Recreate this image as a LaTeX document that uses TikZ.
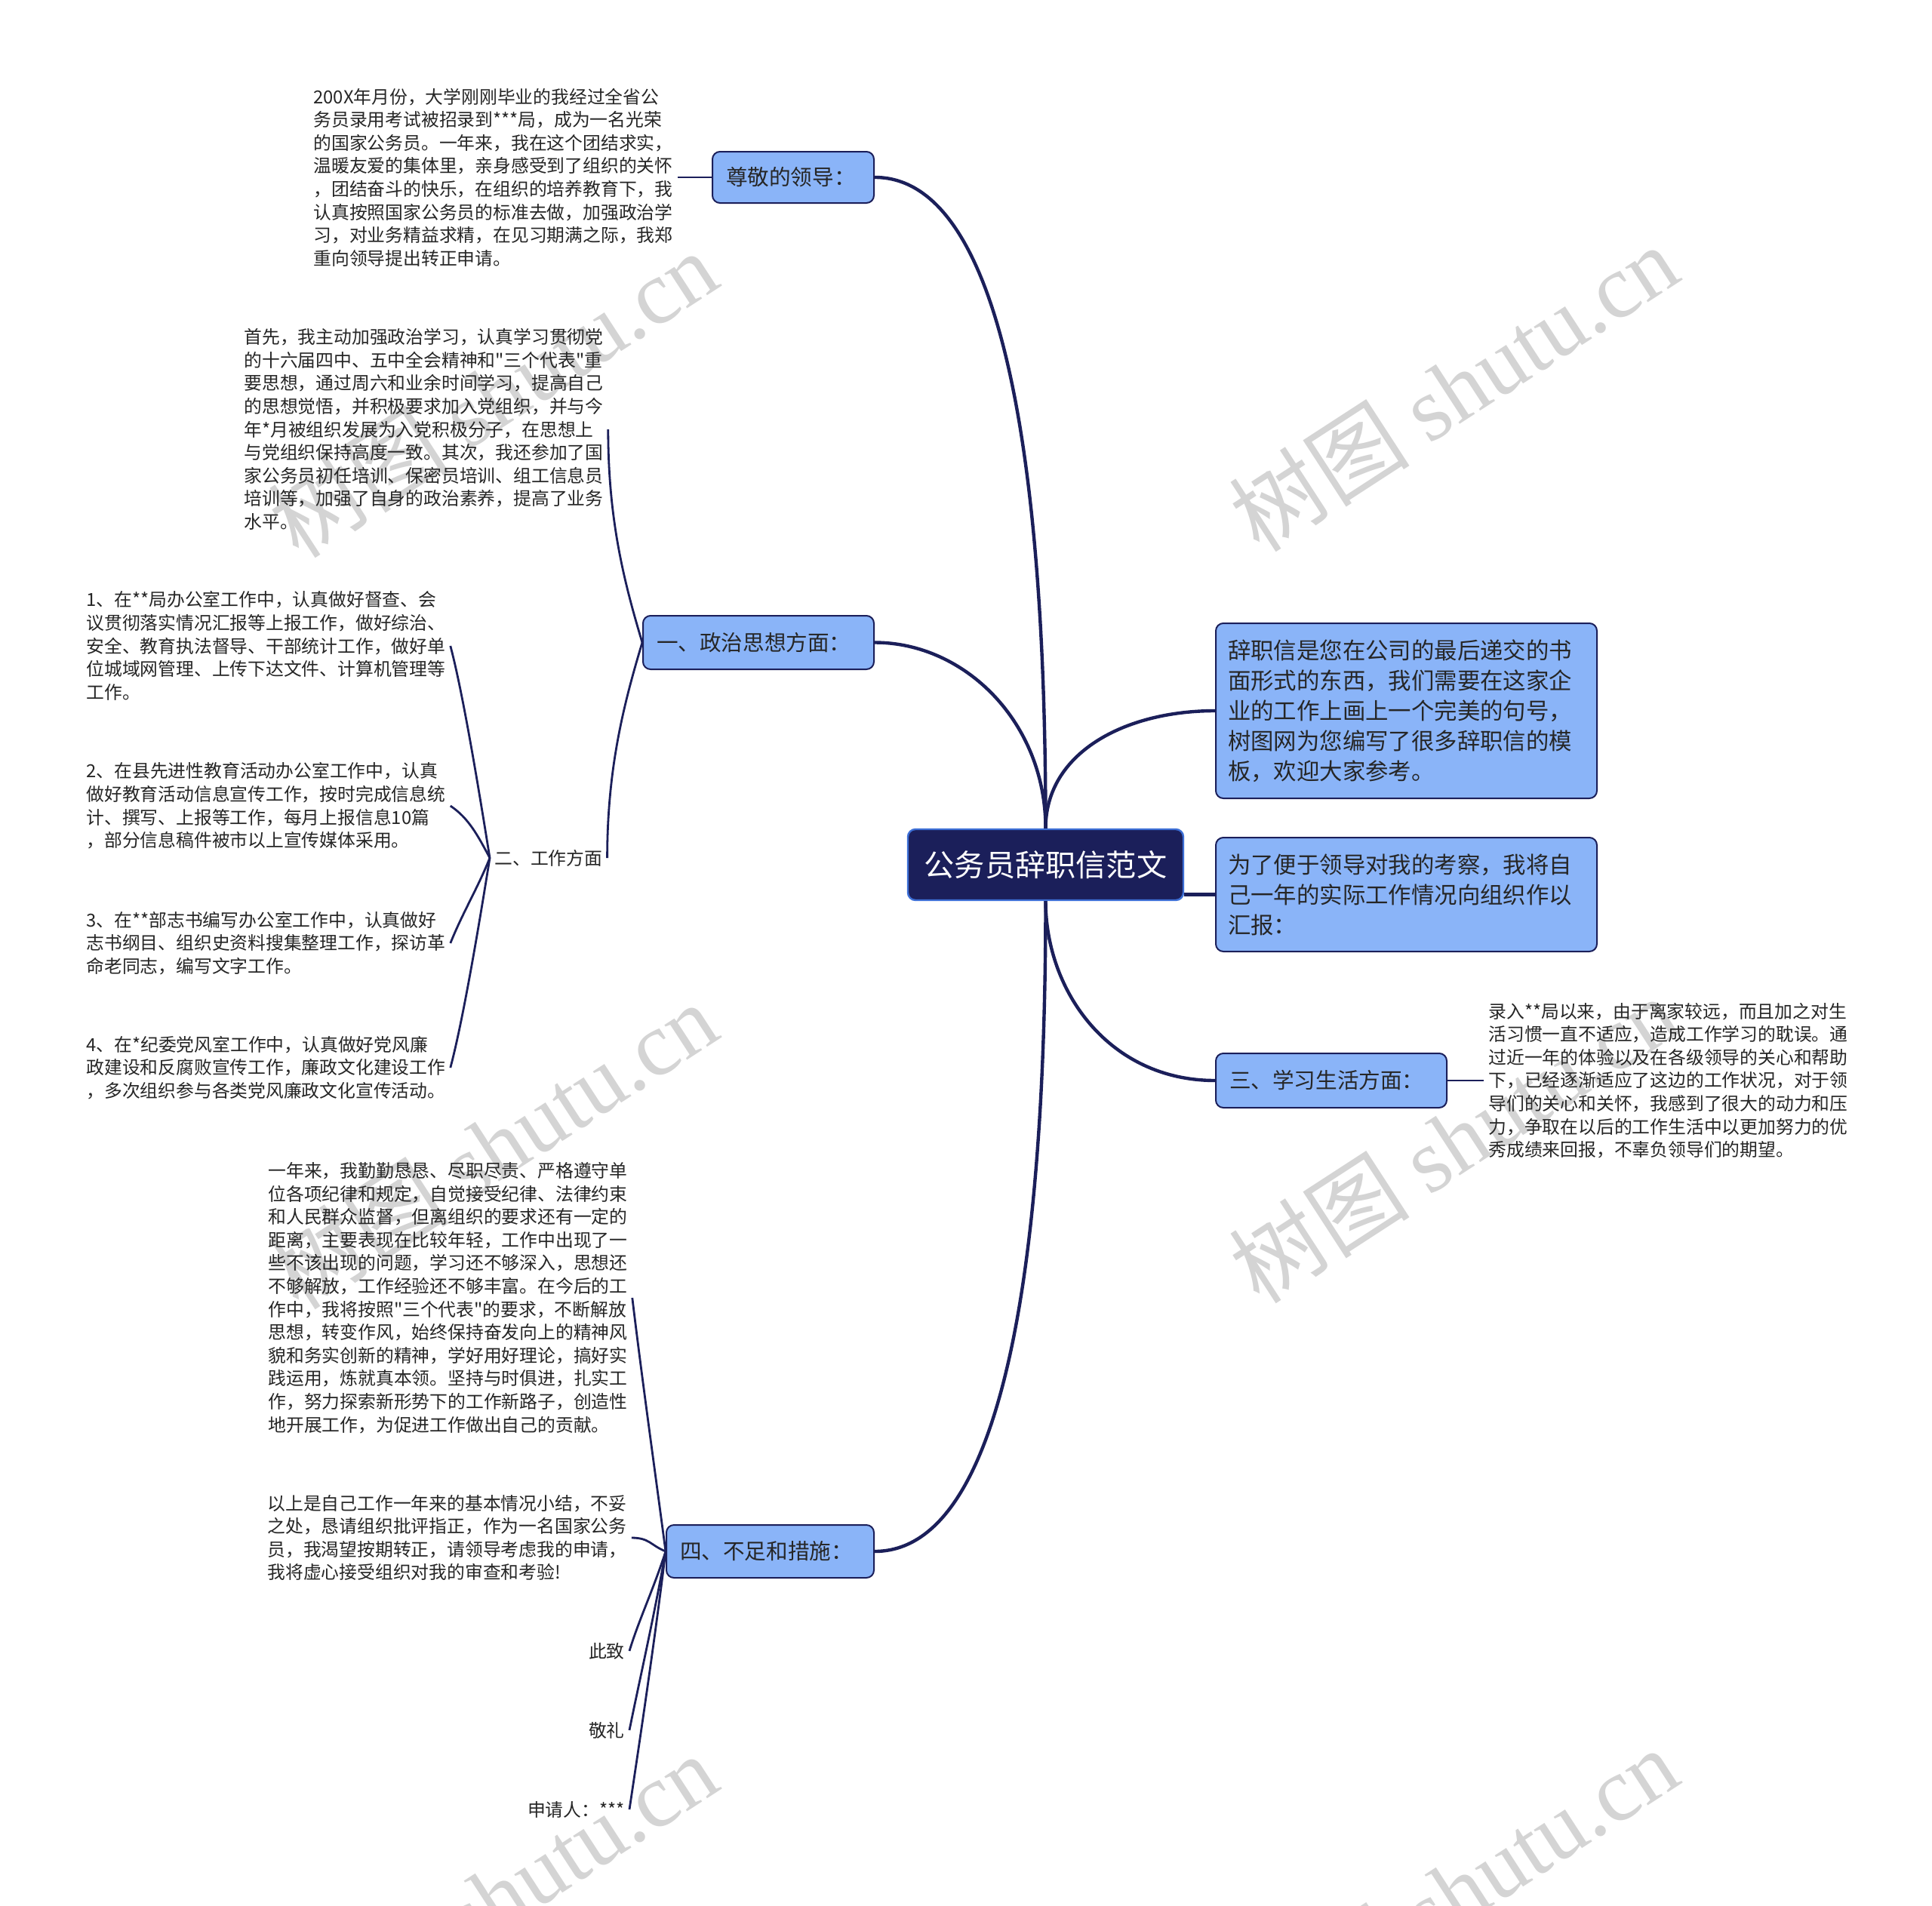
\documentclass[tikz,border=0pt]{standalone}
\usepackage{fontspec}
\newfontfamily\cjk{Noto Sans CJK SC}
\setmainfont{Noto Sans CJK SC}
\newfontfamily\wmfont{Liberation Serif}
\usetikzlibrary{calc}
\definecolor{navy}{HTML}{1B1F5A}
\definecolor{boxblue}{HTML}{8AB4F8}
\definecolor{rootline}{HTML}{3D6FD6}
\definecolor{txt}{HTML}{262626}
\definecolor{wmgray}{HTML}{D4D4D4}
\begin{document}
\begin{tikzpicture}[x=1pt,y=-1pt,
  conn/.style={draw=navy, line width=2.2pt},
  sub/.style={draw=navy, line width=1.4pt},
  topic/.style={draw=navy, fill=boxblue, rounded corners=5pt, line width=1pt, text=txt,
    font=\cjk\fontsize{14.3}{18}\selectfont, align=left, inner xsep=9pt, inner ysep=0pt},
  rootbox/.style={draw=rootline, fill=navy, rounded corners=5pt, line width=1.2pt, text=white,
    font=\cjk\fontsize{20.1}{24}\selectfont, inner sep=0pt, minimum width=182.5pt, minimum height=47pt},
  body/.style={text=txt, font=\cjk\fontsize{11.9}{15.3}\selectfont, align=left, inner sep=3pt, text width=238pt, anchor=west},
  label/.style={text=txt, font=\cjk\fontsize{11.9}{15.3}\selectfont, inner sep=3pt},
  wm/.style={text=wmgray, font=\cjk\fontsize{60}{60}\selectfont, rotate=33, inner sep=0pt}]
\path[use as bounding box, fill=white] (0,0) rectangle (1280,1263);
% watermarks
\begin{scope}
\clip (0,0) rectangle (1280,1263);
\node[wm] (wm1) at (326.5,261) {树图 {\wmfont shutu.cn}};
\node[wm] (wm2) at (963,257) {树图 {\wmfont shutu.cn}};
\node[wm] (wm3) at (326.5,759) {树图 {\wmfont shutu.cn}};
\node[wm] (wm4) at (963,755) {树图 {\wmfont shutu.cn}};
\node[wm] (wm5) at (326.5,1257) {树图 {\wmfont shutu.cn}};
\node[wm] (wm6) at (963,1253) {树图 {\wmfont shutu.cn}};
\end{scope}
% main nodes
\node[rootbox] (root) at (692.75,573) {公务员辞职信范文};
\node[topic, minimum width=107pt, minimum height=34pt, text width=89pt] (zun) at (525.5,117.5) {尊敬的领导：};
\node[topic, minimum width=153pt, minimum height=35.5pt, text width=135pt] (zheng) at (502.5,425.75) {一、政治思想方面：};
\node[topic, minimum width=252.5pt, minimum height=116pt, text width=236.5pt, inner xsep=8pt, font=\cjk\fontsize{15.2}{20}\selectfont] (ci) at (931.75,471) {辞职信是您在公司的最后递交的书\\面形式的东西，我们需要在这家企\\业的工作上画上一个完美的句号，\\树图网为您编写了很多辞职信的模\\板，欢迎大家参考。};
\node[topic, minimum width=252.5pt, minimum height=75.5pt, text width=236.5pt, inner xsep=8pt, font=\cjk\fontsize{15.2}{20}\selectfont] (wei) at (931.75,592.75) {为了便于领导对我的考察，我将自\\己一年的实际工作情况向组织作以\\汇报：};
\node[topic, minimum width=153pt, minimum height=36pt, text width=135pt] (san) at (882,716) {三、学习生活方面：};
\node[topic, minimum width=137.5pt, minimum height=35pt, text width=119.5pt] (si) at (510.25,1028) {四、不足和措施：};
% text blocks
\node[body] (t1) at (204.5,117.5) {200X年月份，大学刚刚毕业的我经过全省公\\务员录用考试被招录到***局，成为一名光荣\\的国家公务员。一年来，我在这个团结求实，\\温暖友爱的集体里，亲身感受到了组织的关怀\\，团结奋斗的快乐，在组织的培养教育下，我\\认真按照国家公务员的标准去做，加强政治学\\习，对业务精益求精，在见习期满之际，我郑\\重向领导提出转正申请。};
\node[body] (t2) at (158.5,284.5) {首先，我主动加强政治学习，认真学习贯彻党\\的十六届四中、五中全会精神和"三个代表"重\\要思想，通过周六和业余时间学习，提高自己\\的思想觉悟，并积极要求加入党组织，并与今\\年*月被组织发展为入党积极分子，在思想上\\与党组织保持高度一致。其次，我还参加了国\\家公务员初任培训、保密员培训、组工信息员\\培训等，加强了自身的政治素养，提高了业务\\水平。};
\node[label, anchor=west] (gong) at (324.5,568.5) {二、工作方面};
\node[body] (w1) at (54,428) {1、在**局办公室工作中，认真做好督查、会\\议贯彻落实情况汇报等上报工作，做好综治、\\安全、教育执法督导、干部统计工作，做好单\\位城域网管理、上传下达文件、计算机管理等\\工作。};
\node[body] (w2) at (54,534) {2、在县先进性教育活动办公室工作中，认真\\做好教育活动信息宣传工作，按时完成信息统\\计、撰写、上报等工作，每月上报信息10篇\\，部分信息稿件被市以上宣传媒体采用。};
\node[body] (w3) at (54,625) {3、在**部志书编写办公室工作中，认真做好\\志书纲目、组织史资料搜集整理工作，探访革\\命老同志，编写文字工作。};
\node[body] (w4) at (54,707.5) {4、在*纪委党风室工作中，认真做好党风廉\\政建设和反腐败宣传工作，廉政文化建设工作\\，多次组织参与各类党风廉政文化宣传活动。};
\node[body] (t6) at (983,716) {录入**局以来，由于离家较远，而且加之对生\\活习惯一直不适应，造成工作学习的耽误。通\\过近一年的体验以及在各级领导的关心和帮助\\下，已经逐渐适应了这边的工作状况，对于领\\导们的关心和关怀，我感到了很大的动力和压\\力，争取在以后的工作生活中以更加努力的优\\秀成绩来回报，不辜负领导们的期望。};
\node[body] (t4) at (174.5,860) {一年来，我勤勤恳恳、尽职尽责、严格遵守单\\位各项纪律和规定，自觉接受纪律、法律约束\\和人民群众监督，但离组织的要求还有一定的\\距离，主要表现在比较年轻，工作中出现了一\\些不该出现的问题，学习还不够深入，思想还\\不够解放，工作经验还不够丰富。在今后的工\\作中，我将按照"三个代表"的要求，不断解放\\思想，转变作风，始终保持奋发向上的精神风\\貌和务实创新的精神，学好用好理论，搞好实\\践运用，炼就真本领。坚持与时俱进，扎实工\\作，努力探索新形势下的工作新路子，创造性\\地开展工作，为促进工作做出自己的贡献。};
\node[body] (t5) at (174,1019) {以上是自己工作一年来的基本情况小结，不妥\\之处，恳请组织批评指正，作为一名国家公务\\员，我渴望按期转正，请领导考虑我的申请，\\我将虚心接受组织对我的审查和考验!};
\node[label, anchor=east] (cz) at (417,1094) {此致};
\node[label, anchor=east] (jl) at (417,1146.5) {敬礼};
\node[label, anchor=east] (sq) at (417,1199) {申请人：***};
% main connectors
\draw[conn] (zun.east) .. controls ($(zun.east)+(70,0)$) and ($(root.north)+(0,-300)$) .. (root.north);
\draw[conn] (zheng.east) .. controls ($(zheng.east)+(60,0)$) and ($(root.north)+(0,-70)$) .. (root.north);
\draw[conn] (root.north) .. controls ($(root.north)+(0,-50)$) and ($(ci.west)+(-60,0)$) .. (ci.west);
\draw[conn] (root.east |- wei.west) -- (wei.west);
\draw[conn] (root.south) .. controls ($(root.south)+(0,60)$) and ($(san.west)+(-70,0)$) .. (san.west);
\draw[conn] (root.south) .. controls ($(root.south)+(0,300)$) and ($(si.east)+(70,0)$) .. (si.east);
% sub connectors
\draw[sub] (t1.east) -- (zun.west);
\draw[sub] (san.east) -- (t6.west);
\draw[sub] (zheng.west) .. controls ($(zheng.west)+(-12,-40)$) and ($(t2.east)+(0,60)$) .. (t2.east);
\draw[sub] (zheng.west) .. controls ($(zheng.west)+(-12,40)$) and ($(gong.east)+(0,-60)$) .. (gong.east);
\draw[sub] (gong.west) .. controls ($(gong.west)+(-8,-50)$) and ($(w1.east)+(8,30)$) .. (w1.east);
\draw[sub] (gong.west) .. controls ($(gong.west)+(-8,-15)$) and ($(w2.east)+(12,8)$) .. (w2.east);
\draw[sub] (gong.west) .. controls ($(gong.west)+(-8,20)$) and ($(w3.east)+(8,-20)$) .. (w3.east);
\draw[sub] (gong.west) .. controls ($(gong.west)+(-8,50)$) and ($(w4.east)+(8,-30)$) .. (w4.east);
\draw[sub] (si.west) .. controls ($(si.west)+(-8,-60)$) and ($(t4.east)+(6,50)$) .. (t4.east);
\draw[sub] (si.west) .. controls ($(si.west)+(-10,-4)$) and ($(t5.east)+(12,0)$) .. (t5.east);
\draw[sub] (si.west) .. controls ($(si.west)+(-8,25)$) and ($(cz.east)+(6,-20)$) .. (cz.east);
\draw[sub] (si.west) .. controls ($(si.west)+(-8,45)$) and ($(jl.east)+(6,-30)$) .. (jl.east);
\draw[sub] (si.west) .. controls ($(si.west)+(-8,65)$) and ($(sq.east)+(6,-40)$) .. (sq.east);
\end{tikzpicture}
\end{document}
